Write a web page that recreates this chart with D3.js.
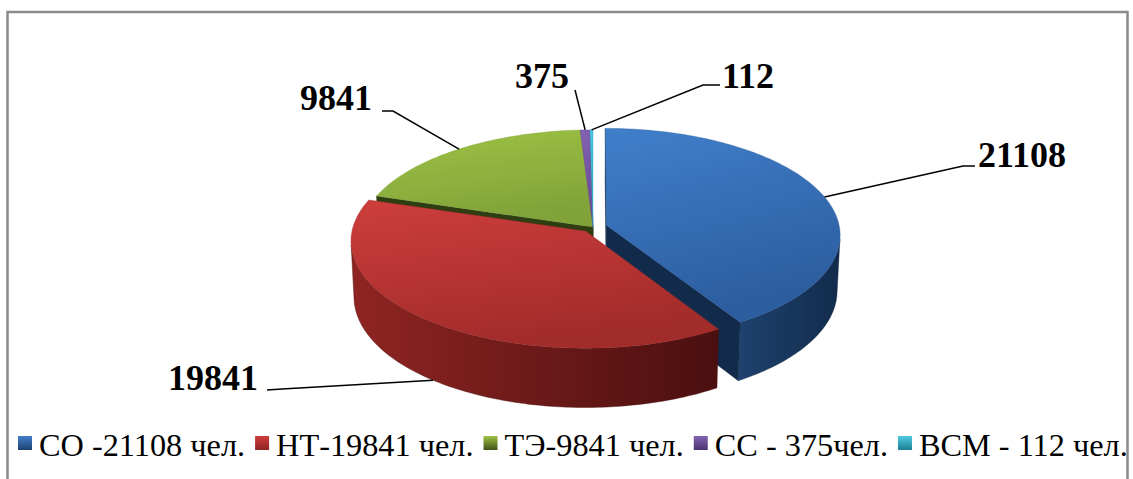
<!DOCTYPE html>
<html>
<head>
<meta charset="utf-8">
<script src="https://cdn.jsdelivr.net/npm/d3@7"></script>
<style>
  body { margin: 0; background: #fff; }
  svg { display: block; }
  .serif { font-family: "Liberation Serif", "Tinos", "Times New Roman", "Times", "DejaVu Serif", serif; }
</style>
</head>
<body>
<div id="chart"></div>
<script>
// data
var categories = ["СО", "НТ", "ТЭ", "СС", "ВСМ"];
var values = [21108, 19841, 9841, 375, 112];
var dataLabels = ["21108", "19841", "9841", "375", "112"];
var legendLabels = ["СО -21108 чел.", "НТ-19841 чел.", "ТЭ-9841 чел.", "СС - 375чел.", "ВСМ - 112 чел."];

// colours per slice: top light, top dark, side light, side dark
var topLight = ["#417fcb", "#cd3e3c", "#9fc244", "#8464b3", "#4fcbe2"];
var topDark  = ["#2c5d9f", "#a22c2a", "#80a33a", "#6a4a98", "#2fa9c2"];
var sideLight = ["#1f426f", "#8f2523", "#3f531b", "#4b3370", "#1d7f92"];
var sideDark  = ["#122b4b", "#4a0f0f", "#2e3d12", "#33224f", "#145d6b"];

// layout
var W = 1133, H = 479;
var view = {cx: 593, cy: 227, s: 233, tilt: 27 * Math.PI / 180, dist: 10, depth: 0.27};
var explode = [0.06, 0.05, 0, 0, 0];
// label text position (baseline start), leader elbow and end, and which rim the leader starts from
var labelLayout = [
  {x: 978, y: 167, elbow: [963, 166], end: [975, 166], rim: "top"},
  {x: 168, y: 390, elbow: [282, 389], end: [267, 390], rim: "bottom"},
  {x: 300, y: 110, elbow: [393, 111], end: [382, 111], rim: "top"},
  {x: 515, y: 88, elbow: [575, 90], end: [575, 90], rim: "top"},
  {x: 722, y: 88, elbow: [703, 85], end: [720, 85], rim: "top"}
];

var svg = d3.select("#chart").append("svg")
    .attr("width", W)
    .attr("height", H);

var defs = svg.append("defs");

// frame
svg.append("rect")
    .attr("x", 7.5).attr("y", 12)
    .attr("width", 1120).attr("height", 490)
    .attr("fill", "none")
    .attr("stroke", "#8a8a8a")
    .attr("stroke-width", 2.5);

// projection of a point on the pie (unit radius) to the screen
var st = Math.sin(view.tilt), ct = Math.cos(view.tilt);
function project(X, Y, Z) {
  var zp = Y * st + Z * ct,
      up = Y * ct - Z * st,
      f = view.dist / (view.dist - zp);
  return [view.cx + view.s * X * f, view.cy - view.s * up * f];
}

var pie = d3.pie().sort(null).startAngle(0).endAngle(2 * Math.PI)(values);

var slices = pie.map(function(p, i) {
  var mid = (p.startAngle + p.endAngle) / 2;
  return {
    i: i, a0: p.startAngle, a1: p.endAngle, mid: mid,
    ox: explode[i] * Math.sin(mid), oz: -explode[i] * Math.cos(mid)
  };
});

function rim(s, a, Y) { return project(s.ox + Math.sin(a), Y, s.oz - Math.cos(a)); }
function centre(s, Y) { return project(s.ox, Y, s.oz); }
function depthOf(X, Y, Z) { return Y * st + Z * ct; }

function angles(a0, a1) {
  var n = Math.max(2, Math.ceil((a1 - a0) / (Math.PI / 180)));
  return d3.range(n + 1).map(function(k) { return a0 + (a1 - a0) * k / n; });
}

var line = d3.line().curve(d3.curveLinearClosed);
var hB = -view.depth;
var camZ = view.dist * ct;

// gradients
slices.forEach(function(s) {
  var g = defs.append("linearGradient").attr("id", "top" + s.i)
      .attr("x1", 0).attr("y1", 0).attr("x2", 0.3).attr("y2", 1);
  g.append("stop").attr("offset", "0%").attr("stop-color", topLight[s.i]);
  g.append("stop").attr("offset", "100%").attr("stop-color", topDark[s.i]);
  var w = defs.append("linearGradient").attr("id", "side" + s.i)
      .attr("x1", 0).attr("y1", 0).attr("x2", 1).attr("y2", 0);
  w.append("stop").attr("offset", "0%").attr("stop-color", sideLight[s.i]);
  w.append("stop").attr("offset", "100%").attr("stop-color", sideDark[s.i]);
});

// cut faces
var faces = [];
slices.forEach(function(s) {
  [[s.a0, -1], [s.a1, 1]].forEach(function(e) {
    var a = e[0], sign = e[1];
    var nx = sign * Math.cos(a), nz = sign * Math.sin(a);
    var px = s.ox + 0.5 * Math.sin(a), py = hB / 2, pz = s.oz - 0.5 * Math.cos(a);
    var dot = nx * (0 - px) + nz * (camZ - pz);
    if (dot > 0) {
      faces.push({
        s: s, z: depthOf(px, py, pz),
        pts: [centre(s, 0), rim(s, a, 0), rim(s, a, hB), centre(s, hB)]
      });
    }
  });
});
faces.sort(function(a, b) { return a.z - b.z; });
svg.append("g").selectAll("path").data(faces).enter().append("path")
    .attr("d", function(d) { return line(d.pts); })
    .attr("fill", function(d) { return sideDark[d.s.i]; })
    .attr("stroke", function(d) { return sideDark[d.s.i]; })
    .attr("stroke-width", 0.5);

// outer walls
var walls = [];
slices.forEach(function(s) {
  var vis = angles(s.a0, s.a1).filter(function(a) {
    return -1 - s.ox * Math.sin(a) + s.oz * Math.cos(a) - camZ * Math.cos(a) > 0;
  });
  if (vis.length < 2) return;
  var top = vis.map(function(a) { return rim(s, a, 0); });
  var bot = vis.slice().reverse().map(function(a) { return rim(s, a, hB); });
  walls.push({s: s, pts: top.concat(bot)});
});
svg.append("g").selectAll("path").data(walls).enter().append("path")
    .attr("d", function(d) { return line(d.pts); })
    .attr("fill", function(d) { return "url(#side" + d.s.i + ")"; })
    .attr("stroke", function(d) { return sideDark[d.s.i]; })
    .attr("stroke-width", 0.4);

// top faces
svg.append("g").selectAll("path").data(slices).enter().append("path")
    .attr("d", function(s) {
      return line([centre(s, 0)].concat(angles(s.a0, s.a1).map(function(a) { return rim(s, a, 0); })));
    })
    .attr("fill", function(s) { return "url(#top" + s.i + ")"; })
    .attr("stroke", function(s) { return topDark[s.i]; })
    .attr("stroke-width", 0.4);

// leader lines and labels
var lab = svg.append("g");
slices.forEach(function(s) {
  var L = labelLayout[s.i];
  var start = rim(s, s.mid, L.rim === "top" ? 0 : hB);
  lab.append("path")
      .attr("d", d3.line()([start, L.elbow, L.end]))
      .attr("fill", "none")
      .attr("stroke", "#000")
      .attr("stroke-width", 1.5);
  lab.append("text")
      .attr("class", "serif")
      .attr("x", L.x).attr("y", L.y)
      .style("font-weight", "bold")
      .style("font-size", "36px")
      .attr("fill", "#000")
      .text(dataLabels[s.i]);
});

// legend
var leg = svg.append("g");
var lx = 18;
legendLabels.forEach(function(t, i) {
  var g = defs.append("linearGradient").attr("id", "mk" + i)
      .attr("x1", 0).attr("y1", 0).attr("x2", 0).attr("y2", 1);
  g.append("stop").attr("offset", "0%").attr("stop-color", topLight[i]);
  g.append("stop").attr("offset", "100%").attr("stop-color", sideLight[i]);
  leg.append("rect")
      .attr("x", lx).attr("y", 436)
      .attr("width", 14).attr("height", 14)
      .attr("fill", "url(#mk" + i + ")");
  var txt = leg.append("text")
      .attr("class", "serif")
      .attr("x", lx + 21).attr("y", 456)
      .style("font-size", "32.3px")
      .attr("fill", "#000")
      .text(t);
  lx += 21 + txt.node().getComputedTextLength() + 10;
});
</script>
</body>
</html>
